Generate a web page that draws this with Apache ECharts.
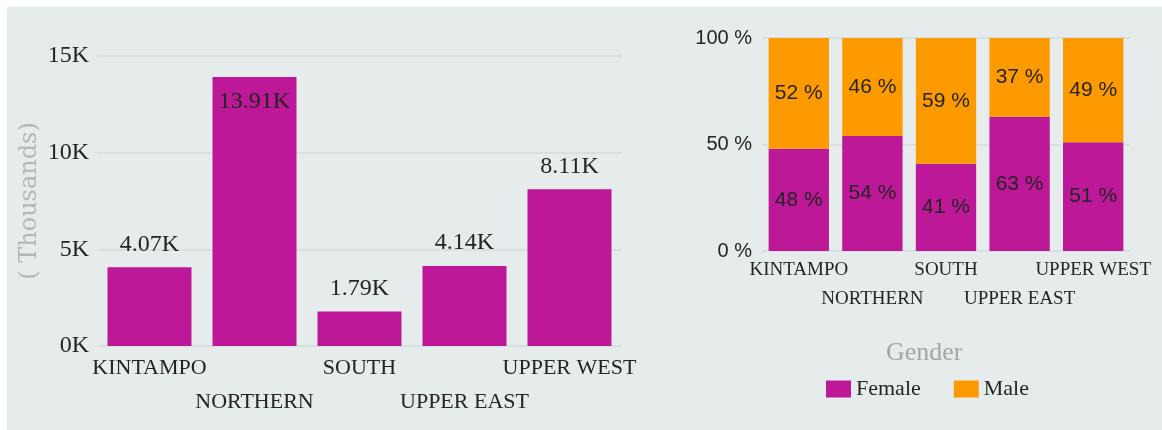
<!DOCTYPE html>
<html>
<head>
<meta charset="utf-8">
<script src="https://cdn.jsdelivr.net/npm/echarts@6/dist/echarts.min.js"></script>
<style>
  html, body { margin: 0; padding: 0; background: #ffffff; }
  #wrap { position: relative; width: 1162px; height: 430px; }
  #panel { position: absolute; left: 7px; top: 7px; right: 0; bottom: 0; background: #e6ecec; }
  #chart { position: absolute; left: 0; top: 0; width: 1162px; height: 430px; }
</style>
</head>
<body>
<div id="wrap">
  <div id="panel"></div>
  <div id="chart"></div>
</div>
<script>
// regions
var regions = ['KINTAMPO', 'NORTHERN', 'SOUTH', 'UPPER EAST', 'UPPER WEST']
// total count per region
var totals = [4070, 13910, 1790, 4140, 8110]
// gender share (%)
var female = [48, 54, 41, 63, 51]
var male = [52, 46, 59, 37, 49]
var leftTicks = [0, 5000, 10000, 15000]

var purple = '#bc1897'
var orange = '#fd9a00'
var textColor = '#252423'
var serif = '"Liberation Serif", "DejaVu Serif", serif'
var sans = '"Liberation Sans", Arial, sans-serif'

// odd labels go on a second row
function staggered (value, index) {
  return index % 2 === 1 ? '\n' + value : value
}

function totalData () {
  return totals.map(function (v) {
    return {
      value: v,
      label: v > 12000 ? { position: 'insideTop', distance: 13 } : { position: 'top', distance: 11 }
    }
  })
}

var myChart = echarts.init(document.getElementById('chart'))
myChart.setOption({
  animation: false,
  title: {
    text: 'Gender',
    left: 886,
    top: 340,
    padding: 0,
    textStyle: { color: '#a3a6a6', fontFamily: serif, fontSize: 26, fontWeight: 'normal' }
  },
  legend: {
    data: ['Female', 'Male'],
    left: 826,
    top: 378,
    padding: 0,
    itemWidth: 25,
    itemHeight: 17,
    itemGap: 33,
    icon: 'rect',
    textStyle: { color: textColor, fontFamily: serif, fontSize: 22 }
  },
  grid: [
    { left: 97, right: 540, top: 56, bottom: 84 },
    { left: 762, right: 32, top: 38, bottom: 179 }
  ],
  xAxis: [
    {
      type: 'category',
      gridIndex: 0,
      data: regions,
      axisLine: { show: false },
      axisTick: { show: false },
      axisLabel: {
        interval: 0,
        margin: 5,
        color: textColor,
        fontFamily: serif,
        fontSize: 22,
        lineHeight: 34,
        formatter: staggered
      }
    },
    {
      type: 'category',
      gridIndex: 1,
      data: regions,
      axisLine: { show: false },
      axisTick: { show: false },
      axisLabel: {
        interval: 0,
        margin: 5,
        color: textColor,
        fontFamily: serif,
        fontSize: 19,
        lineHeight: 29,
        formatter: staggered
      }
    }
  ],
  yAxis: [
    {
      type: 'value',
      gridIndex: 0,
      min: leftTicks[0],
      max: leftTicks[leftTicks.length - 1],
      interval: 5000,
      name: '( Thousands)',
      nameLocation: 'middle',
      nameRotate: 90,
      nameGap: 55,
      nameTextStyle: { color: '#b3b7b7', fontFamily: '"DejaVu Serif", serif', fontSize: 24 },
      axisLine: { show: false },
      axisTick: { show: false },
      splitLine: { lineStyle: { color: '#d5dbdb', width: 1.5 } },
      axisLabel: {
        margin: 8,
        color: textColor,
        fontFamily: serif,
        fontSize: 24,
        formatter: function (v) { return (v / 1000) + 'K' }
      }
    },
    {
      type: 'value',
      gridIndex: 1,
      min: 0,
      max: 100,
      interval: 50,
      axisLine: { show: false },
      axisTick: { show: false },
      splitLine: { lineStyle: { color: '#d5dbdb', width: 1.5 } },
      axisLabel: {
        margin: 10,
        color: textColor,
        fontFamily: sans,
        fontSize: 20,
        formatter: '{value} %'
      }
    }
  ],
  series: [
    {
      name: 'Total',
      type: 'bar',
      xAxisIndex: 0,
      yAxisIndex: 0,
      barCategoryGap: '20%',
      itemStyle: { color: purple },
      label: {
        show: true,
        color: textColor,
        fontFamily: serif,
        fontSize: 24,
        formatter: function (p) { return (p.value / 1000).toFixed(2) + 'K' }
      },
      data: totalData()
    },
    {
      name: 'Female',
      type: 'bar',
      stack: 'gender',
      xAxisIndex: 1,
      yAxisIndex: 1,
      barCategoryGap: '18%',
      itemStyle: { color: purple },
      label: { show: true, position: 'inside', color: textColor, fontFamily: sans, fontSize: 21, formatter: '{c} %' },
      data: female
    },
    {
      name: 'Male',
      type: 'bar',
      stack: 'gender',
      xAxisIndex: 1,
      yAxisIndex: 1,
      itemStyle: { color: orange },
      label: { show: true, position: 'inside', color: textColor, fontFamily: sans, fontSize: 21, formatter: '{c} %' },
      data: male
    }
  ]
})
</script>
</body>
</html>
